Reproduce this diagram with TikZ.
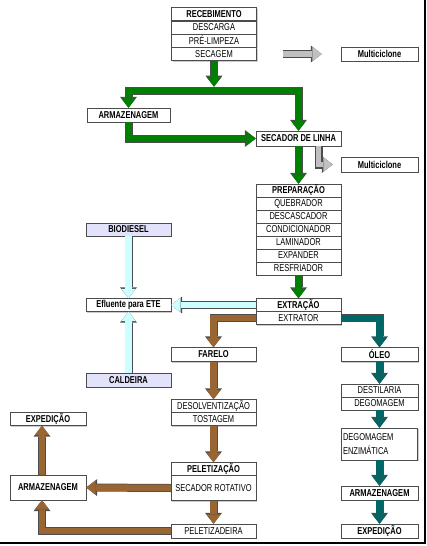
\documentclass[tikz,border=0pt]{standalone}
\usepackage{fontspec}
\setmainfont{Liberation Sans}[FakeStretch=0.75]
\usetikzlibrary{arrows.meta,shadows}

\definecolor{verde}{RGB}{0,128,0}
\definecolor{marrom}{RGB}{153,102,51}
\definecolor{petroleo}{RGB}{0,102,102}
\definecolor{ciano}{RGB}{204,255,255}
\definecolor{cinza}{RGB}{192,192,192}
\definecolor{lavanda}{RGB}{226,226,250}

\tikzset{
  box/.style={draw=black!70, fill=white, minimum width=85, minimum height=13, inner sep=0pt,
    font=\fontsize{10}{12}\selectfont,
    drop shadow={shadow xshift=1pt, shadow yshift=-1pt, fill=black!40}},
  titulo/.style={box, font=\fontsize{10}{12}\selectfont\bfseries},
  seta/.style={line width=6.5pt, draw=#1, line join=miter,
    -{Triangle[width=14.5pt,length=9.5pt,line width=0pt]},
    preaction={draw=black!70, line width=8pt, line join=miter,
      -{Triangle[width=17pt,length=11pt,line width=0pt]}}},
}

\begin{document}
\begin{tikzpicture}[x=1pt,y=-1pt]
\useasboundingbox (0,0) rectangle (427,546);

% recebimento
\node[titulo] (receb) at (214,14) {RECEBIMENTO};
\node[box] (descarga) at (214,27.3) {DESCARGA};
\node[box] (prelimp) at (214,40.6) {PRÉ-LIMPEZA};
\node[box] (secagem) at (214,54) {SECAGEM};
\node[titulo,minimum width=77,minimum height=14] (multi1) at (379.5,54) {Multiciclone};

\node[titulo,minimum width=83,minimum height=14] (armaz) at (128.5,115) {ARMAZENAGEM};
\node[titulo,minimum height=15] (secador) at (298.5,138.5) {SECADOR DE LINHA};
\node[titulo,minimum width=77,minimum height=15] (multi2) at (379.5,164.5) {Multiciclone};

% preparacao
\node[titulo] (prep) at (298.5,190.5) {PREPARAÇÃO};
\node[box] (quebr) at (298.5,203.5) {QUEBRADOR};
\node[box] (descasc) at (298.5,216.5) {DESCASCADOR};
\node[box] (condic) at (298.5,229.5) {CONDICIONADOR};
\node[box] (lamin) at (298.5,242.5) {LAMINADOR};
\node[box] (expand) at (298.5,255.5) {EXPANDER};
\node[box] (resfr) at (298.5,268.5) {RESFRIADOR};

\node[titulo] (extr) at (298.5,305) {EXTRAÇÃO};
\node[box] (extrator) at (298.5,318) {EXTRATOR};

% efluentes
\node[titulo,fill=lavanda] (bio) at (128.5,229.5) {BIODIESEL};
\node[titulo] (efl) at (128.5,305) {Efluente para ETE};
\node[titulo,fill=lavanda,minimum height=14] (cald) at (128.5,380) {CALDEIRA};

% farelo
\node[titulo,minimum height=14] (farelo) at (213.5,354.5) {FARELO};
\node[box] (desolv) at (213.5,406) {DESOLVENTIZAÇÃO};
\node[box] (tostagem) at (213.5,419) {TOSTAGEM};
\node[titulo] (pelet) at (213.5,469) {PELETIZAÇÃO};
\node[box,minimum height=25] (secrot) at (213.5,488) {SECADOR ROTATIVO};
\node[box,minimum height=14] (peletiz) at (213.5,531) {PELETIZADEIRA};
\node[titulo,minimum width=76,minimum height=25] (armaz2) at (48,487.5) {ARMAZENAGEM};
\node[titulo,minimum width=76] (exped2) at (48,419) {EXPEDIÇÃO};

% oleo
\node[titulo,minimum width=77,minimum height=14] (oleo) at (379.5,354.5) {ÓLEO};
\node[box,minimum width=77] (destil) at (379.5,390.5) {DESTILARIA};
\node[box,minimum width=77] (degom) at (379.5,403.5) {DEGOMAGEM};
\node[box,minimum width=76,minimum height=32,text width=73,align=left,
  font=\fontsize{10}{14}\selectfont] (degenz) at (379.5,444) {DEGOMAGEM\\ENZIMÁTICA};
\node[titulo,minimum width=77,minimum height=14] (armaz3) at (379.5,493) {ARMAZENAGEM};
\node[titulo,minimum width=77,minimum height=14] (exped3) at (379.5,531) {EXPEDIÇÃO};

\coordinate (bifurca) at (214,91);

\draw[seta=verde] (secagem.south) -- ++(0,26);
\draw[seta=verde] (bifurca) -| (armaz.north);
\draw[seta=verde] (bifurca) -| (secador.north);
\draw[seta=verde] (armaz.south) |- (secador.west);
\draw[seta=verde] (secador.south) -- (prep.north);
\draw[seta=verde] (resfr.south) -- (extr.north);

\draw[seta=cinza] ([xshift=26pt]secagem.east) -- ([xshift=-19pt]multi1.west);
\draw[seta=cinza,line width=5.5pt] ([xshift=20pt]secador.south) |- ([xshift=-8pt]multi2.west);

\draw[seta=ciano] (extr.west) -- (efl.east);
\draw[seta=ciano] (bio.south) -- (efl.north);
\draw[seta=ciano] (cald.north) -- (efl.south);

\draw[seta=marrom] (extrator.west) -| (farelo.north);
\draw[seta=marrom] (farelo.south) -- (desolv.north);
\draw[seta=marrom] (tostagem.south) -- (pelet.north);
\draw[seta=marrom] (secrot.south) -- (peletiz.north);
\draw[seta=marrom] (secrot.west) -- (armaz2.east);
\draw[seta=marrom] ([xshift=-6pt]armaz2.north) -- ([xshift=-6pt]exped2.south);
\draw[seta=marrom] (peletiz.west) -| ([xshift=-6pt]armaz2.south);

\draw[seta=petroleo] (extrator.east) -| (oleo.north);
\draw[seta=petroleo] (oleo.south) -- (destil.north);
\draw[seta=petroleo] (degom.south) -- (degenz.north);
\draw[seta=petroleo] (degenz.south) -- (armaz3.north);
\draw[seta=petroleo] (armaz3.south) -- (exped3.north);

\draw[line width=2pt] (0,543) -- (425,543) -- (425,0);
\end{tikzpicture}
\end{document}
